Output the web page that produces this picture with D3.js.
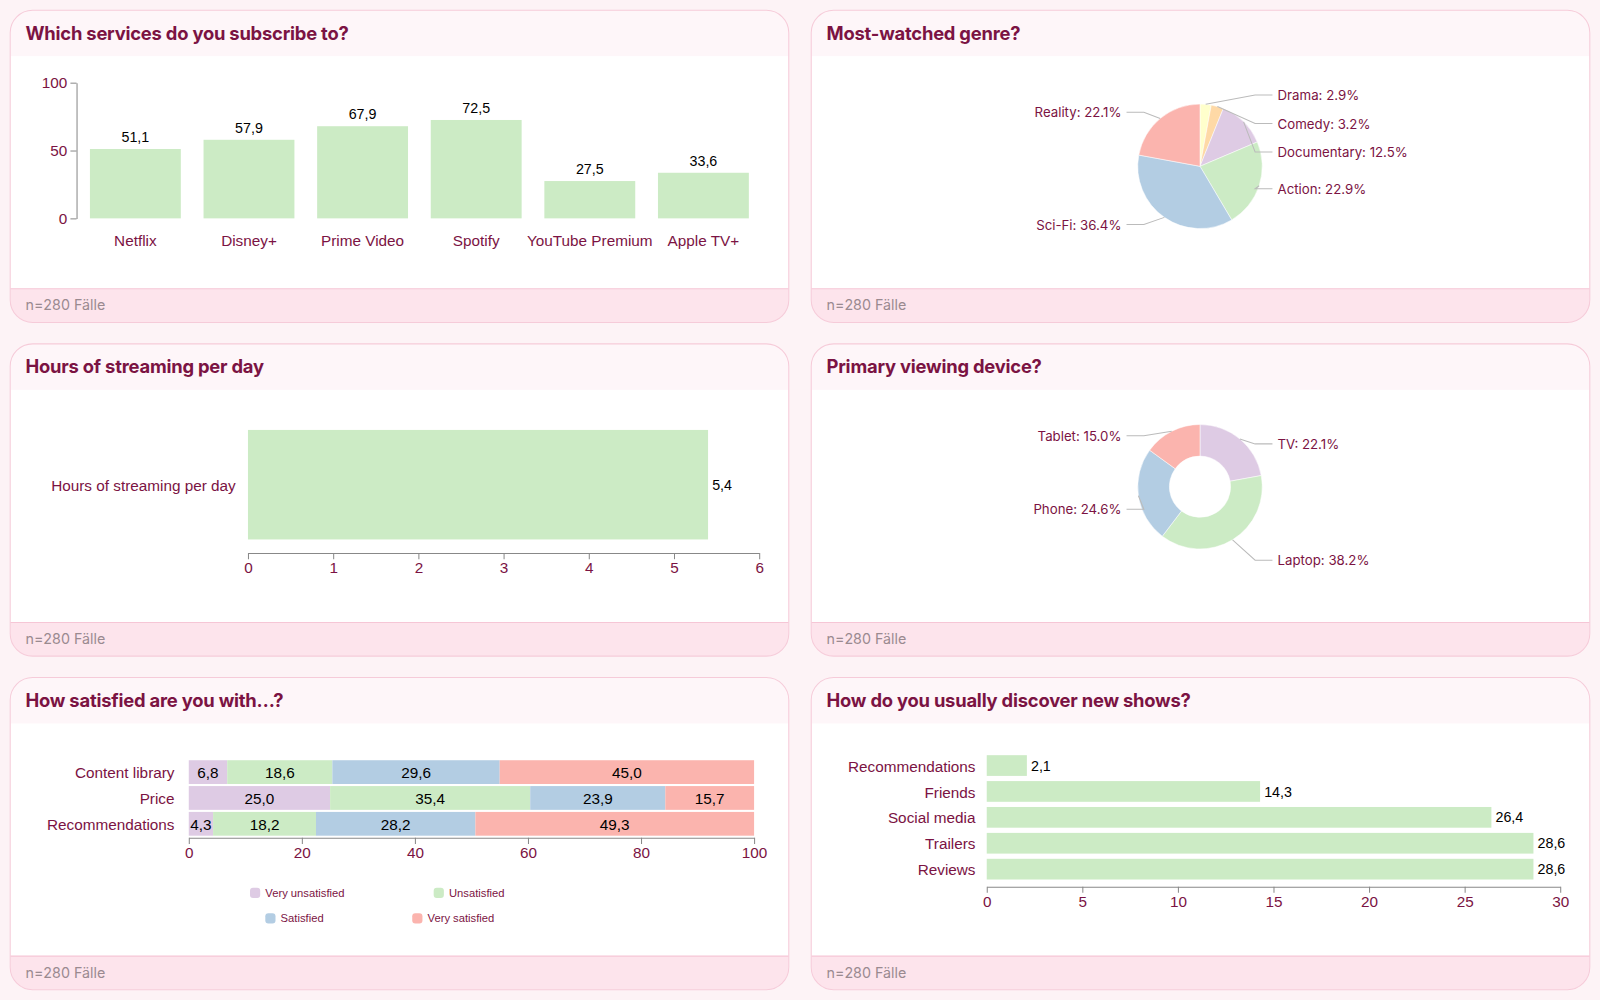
<!DOCTYPE html><html><head><meta charset="utf-8">
<script src="https://cdn.jsdelivr.net/npm/d3@7"></script>
<style>body{margin:0;background:#fdf3f6;}text{font-family:"Liberation Sans",Arial,sans-serif;}</style></head><body>
<svg id="c" width="1600" height="1000"></svg>
<script>
const services=["Netflix","Disney+","Prime Video","Spotify","YouTube Premium","Apple TV+"];
const serviceVals=[51.1,57.9,67.9,72.5,27.5,33.6];
const genres=["Drama","Comedy","Documentary","Action","Sci-Fi","Reality"];
const genreVals=[2.9,3.2,12.5,22.9,36.4,22.1];
const genreColors=["#ffffcc","#fed9a6","#decbe4","#ccebc5","#b3cde3","#fbb4ae"];
const hoursLabel=["Hours of streaming per day"];
const hoursVals=[5.4];
const devices=["TV","Laptop","Phone","Tablet"];
const deviceVals=[22.1,38.2,24.6,15.0];
const deviceColors=["#decbe4","#ccebc5","#b3cde3","#fbb4ae"];
const satItems=["Content library","Price","Recommendations"];
const satLevels=["Very unsatisfied","Unsatisfied","Satisfied","Very satisfied"];
const satVals=[[6.8,18.6,29.6,45.0],[25.0,35.4,23.9,15.7],[4.3,18.2,28.2,49.3]];
const satColors=["#decbe4","#ccebc5","#b3cde3","#fbb4ae"];
const discover=["Recommendations","Friends","Social media","Trailers","Reviews"];
const discoverVals=[2.1,14.3,26.4,28.6,28.6];
const titles=["Which services do you subscribe to?","Most-watched genre?","Hours of streaming per day","Primary viewing device?","How satisfied are you with…?","How do you usually discover new shows?"];

const svg=d3.select("#c").append("g").attr("transform",`scale(${1600/1568})`);
const maroon="#7b1343", green="#ccebc5", fmt=v=>d3.format(".1f")(v).replace(".",",");
titles.forEach((t,i)=>{
  const x=i%2?795:10, y=10+Math.floor(i/2)*327, w=763, h=306;
  const g=svg.append("g");
  g.append("clipPath").attr("id","cp"+i).append("rect").attr("x",x).attr("y",y).attr("width",w).attr("height",h).attr("rx",22);
  const cg=g.append("g").attr("clip-path",`url(#cp${i})`);
  cg.append("rect").attr("x",x).attr("y",y).attr("width",w).attr("height",h).attr("fill","#fff");
  cg.append("rect").attr("x",x).attr("y",y).attr("width",w).attr("height",45).attr("fill","#fef6f9");
  cg.append("rect").attr("x",x).attr("y",y+273).attr("width",w).attr("height",33).attr("fill","#fde4ec");
  cg.append("line").attr("x1",x).attr("x2",x+w).attr("y1",y+273).attr("y2",y+273).attr("stroke","#f6c6d6");
  g.append("rect").attr("x",x).attr("y",y).attr("width",w).attr("height",h).attr("rx",22).attr("fill","none").attr("stroke","#f6cbd9");
  g.append("text").attr("x",x+15).attr("y",y+29).text(t).attr("fill",maroon).style("font-family","Inter,sans-serif").style("font-weight",700).style("font-size","18px").style("letter-spacing","-0.2px");
  g.append("text").attr("x",x+15).attr("y",y+294).text("n=280 Fälle").attr("fill","#9a8a90").style("font-family","Inter,sans-serif").style("font-size","14px");
});
function styleAxis(a){a.selectAll("text").attr("fill",maroon).style("font-size","15px");a.selectAll("line,path").attr("stroke","#888");}
{const x=d3.scaleBand().domain(services).range([77,745]).paddingInner(0.2).paddingOuter(0.1);
 const y=d3.scaleLinear().domain([0,100]).range([214,81]);
 svg.append("g").attr("transform","translate(75,0)").call(d3.axisLeft(y).tickValues([0,50,100]).tickSizeOuter(0)).call(styleAxis);
 svg.selectAll(".b1").data(services).join("rect").attr("x",d=>x(d)).attr("width",x.bandwidth()).attr("y",(d,i)=>y(serviceVals[i])).attr("height",(d,i)=>214-y(serviceVals[i])).attr("fill",green);
 svg.selectAll(".l1").data(services).join("text").attr("x",d=>x(d)+x.bandwidth()/2).attr("y",(d,i)=>y(serviceVals[i])-7).attr("text-anchor","middle").style("font-size","14px").text((d,i)=>fmt(serviceVals[i]));
 svg.selectAll(".c1").data(services).join("text").attr("x",d=>x(d)+x.bandwidth()/2).attr("y",241).attr("text-anchor","middle").attr("fill",maroon).style("font-size","15px").text(d=>d);}
function pie(names,vals,colors,cx,cy,r,ir,labelPos){
 const arcs=d3.pie().sort(null)(vals);const arc=d3.arc().innerRadius(ir).outerRadius(r);
 const g=svg.append("g").attr("transform",`translate(${cx},${cy})`);
 g.selectAll("path").data(arcs).join("path").attr("d",arc).attr("fill",(d,i)=>colors[i]).attr("stroke","#fff").attr("stroke-width",0.5);
 arcs.forEach((a,i)=>{const m=(a.startAngle+a.endAngle)/2;const px=Math.sin(m)*r,py=-Math.cos(m)*r;
  const [lx,ly]=labelPos[i];const right=lx>0;
  g.append("polyline").attr("points",`${px},${py} ${lx+(right?-22:22)},${ly} ${lx+(right?-5:5)},${ly}`).attr("fill","none").attr("stroke","#bbb");
  g.append("text").attr("x",lx).attr("y",ly+5).attr("text-anchor",right?"start":"end").attr("fill",maroon).style("font-family","Inter,sans-serif").style("font-size","13px").text(`${names[i]}: ${d3.format(".1f")(vals[i])}%`);});}
pie(genres,genreVals,genreColors,1176,163,61,0,[[76,-70],[76,-42],[76,-14],[76,22],[-77,57],[-77,-53]]);
pie(devices,deviceVals,deviceColors,1176,477,61,30,[[76,-42],[76,72],[-77,22],[-77,-50]]);
{const x=d3.scaleLinear().domain([0,6]).range([243,744]);const y=d3.scaleBand().domain(hoursLabel).range([412,538]).padding(0.08);
 svg.append("g").attr("transform","translate(0,542)").call(d3.axisBottom(x).ticks(6).tickSizeOuter(0)).call(styleAxis);
 svg.selectAll(".b3").data(hoursLabel).join("rect").attr("x",x(0)).attr("y",d=>y(d)).attr("height",y.bandwidth()).attr("width",(d,i)=>x(hoursVals[i])-x(0)).attr("fill",green);
 svg.selectAll(".v3").data(hoursLabel).join("text").attr("x",(d,i)=>x(hoursVals[i])+4).attr("y",d=>y(d)+y.bandwidth()/2+5).style("font-size","14px").text((d,i)=>fmt(hoursVals[i]));
 svg.selectAll(".c3").data(hoursLabel).join("text").attr("x",231).attr("y",d=>y(d)+y.bandwidth()/2+6).attr("text-anchor","end").attr("fill",maroon).style("font-size","15px").text(d=>d);}
{const x=d3.scaleLinear().domain([0,100]).range([185,739]);const y=d3.scaleBand().domain(satItems).range([743,821]).padding(0.08);
 svg.append("g").attr("transform","translate(0,821)").call(d3.axisBottom(x).ticks(5).tickSizeOuter(0)).call(styleAxis);
 satItems.forEach((it,i)=>{let acc=0;satVals[i].forEach((v,j)=>{
  svg.append("rect").attr("x",x(acc)).attr("width",x(acc+v)-x(acc)).attr("y",y(it)).attr("height",y.bandwidth()).attr("fill",satColors[j]);
  svg.append("text").attr("x",x(acc+v/2)).attr("y",y(it)+y.bandwidth()/2+6).attr("text-anchor","middle").style("font-size","15px").text(fmt(v));acc+=v;});
  svg.append("text").attr("x",171).attr("y",y(it)+y.bandwidth()/2+6).attr("text-anchor","end").attr("fill",maroon).style("font-size","15px").text(it);});
 const lp=[[245,875],[425,875],[260,900],[404,900]];
 satLevels.forEach((l,j)=>{svg.append("rect").attr("x",lp[j][0]).attr("y",lp[j][1]-5).attr("width",10).attr("height",10).attr("rx",3).attr("fill",satColors[j]);
  svg.append("text").attr("x",lp[j][0]+15).attr("y",lp[j][1]+4).attr("fill",maroon).style("font-size","11px").text(l);});}
{const x=d3.scaleLinear().domain([0,30]).range([967,1529]);const y=d3.scaleBand().domain(discover).range([735,867]).padding(0.2);
 svg.append("g").attr("transform","translate(0,869)").call(d3.axisBottom(x).ticks(6).tickSizeOuter(0)).call(styleAxis);
 svg.selectAll(".b6").data(discover).join("rect").attr("x",x(0)).attr("y",d=>y(d)).attr("height",y.bandwidth()).attr("width",(d,i)=>x(discoverVals[i])-x(0)).attr("fill",green);
 svg.selectAll(".v6").data(discover).join("text").attr("x",(d,i)=>x(discoverVals[i])+4).attr("y",d=>y(d)+y.bandwidth()/2+5).style("font-size","14px").text((d,i)=>fmt(discoverVals[i]));
 svg.selectAll(".c6").data(discover).join("text").attr("x",956).attr("y",d=>y(d)+y.bandwidth()/2+6).attr("text-anchor","end").attr("fill",maroon).style("font-size","15px").text(d=>d);}
</script></body></html>
